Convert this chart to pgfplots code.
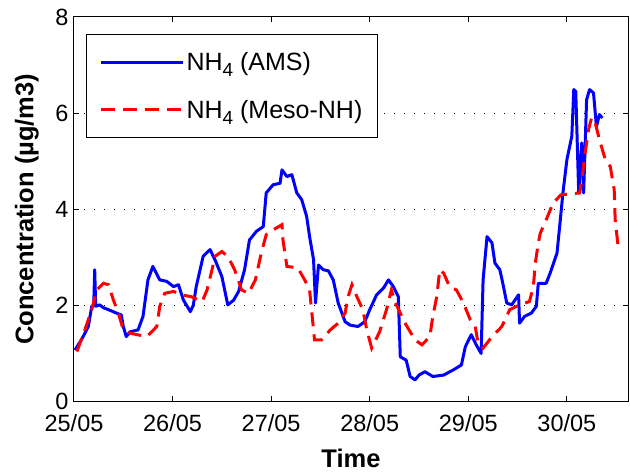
\documentclass[border=0pt]{standalone}
\usepackage{pgfplots}
\pgfplotsset{compat=1.18}
\usepackage{fontspec}
\setmainfont{Liberation Sans}

\definecolor{amsblue}{RGB}{0,0,255}
\definecolor{mesored}{RGB}{255,0,0}

\newcommand{\subfour}{\raisebox{-0.45ex}{\fontsize{19}{19}\selectfont 4}}

\begin{document}
\begin{tikzpicture}
\begin{axis}[
  scale only axis,
  width=554pt, height=384.5pt,
  xmin=0, xmax=5.62, ymin=0, ymax=8,
  xtick={0,1,2,3,4,5},
  xticklabels={25/05,26/05,27/05,28/05,29/05,30/05},
  ytick={0,2,4,6,8},
  /pgf/number format/assume math mode=true,
  tick label style={font=\fontsize{23.5}{27}\selectfont},
  x tick label style={yshift=-9pt},
  y tick label style={xshift=-2pt},
  tick align=inside,
  major tick length=5pt,
  axis line style={line width=1pt},
  every tick/.style={black, line width=1pt},
  ymajorgrids,
  major grid style={black, line width=1pt, dash pattern=on 1pt off 9pt},
  xlabel={\bfseries Time},
  ylabel={\bfseries Concentration (µg/m3)},
  label style={font=\fontsize{25.5}{29}\selectfont},
  x label style={at={(axis description cs:0.5,-0.147)}, anchor=center},
  y label style={at={(axis description cs:-0.085,0.5)}, anchor=center},
  legend style={
    at={(axis description cs:0.0217,0.956)}, anchor=north west,
    draw=black, line width=1pt, fill=white,
    font=\fontsize{25}{29}\selectfont,
    inner xsep=13pt, inner ysep=16pt,
    row sep=24pt,
    cells={anchor=west},
  },
  legend image code/.code={\draw[#1] (0pt,0pt) -- (82pt,0pt);},
]

% AMS measurements
\addplot[amsblue, line width=3pt, line join=round] coordinates {
(0.01,1.07) (0.08,1.30) (0.145,1.56) (0.18,1.98) (0.20,2.00) (0.21,2.74)
(0.22,1.98) (0.26,2.01) (0.30,1.95) (0.35,1.91) (0.43,1.84) (0.48,1.80)
(0.50,1.56) (0.53,1.35) (0.57,1.45) (0.65,1.49) (0.70,1.77) (0.75,2.53)
(0.80,2.81) (0.87,2.53) (0.94,2.50) (1.01,2.39) (1.06,2.43) (1.11,2.11)
(1.18,1.87) (1.21,2.00) (1.24,2.39) (1.31,3.02) (1.38,3.16) (1.43,2.95)
(1.50,2.60) (1.56,2.01) (1.62,2.11) (1.67,2.29) (1.73,2.74) (1.78,3.36)
(1.85,3.54) (1.92,3.64) (1.95,4.34) (2.02,4.51) (2.09,4.54) (2.11,4.82)
(2.16,4.68) (2.21,4.72) (2.26,4.34) (2.31,4.20) (2.36,3.85) (2.39,3.43)
(2.43,2.95) (2.45,2.05) (2.48,2.84) (2.53,2.74) (2.58,2.72) (2.63,2.53)
(2.68,2.05) (2.75,1.66) (2.80,1.59) (2.88,1.56) (2.95,1.66) (3.00,1.91)
(3.07,2.22) (3.14,2.36) (3.19,2.53) (3.24,2.39) (3.29,2.18) (3.31,0.93)
(3.37,0.86) (3.41,0.52) (3.46,0.45) (3.50,0.55) (3.56,0.62) (3.64,0.52)
(3.75,0.55) (3.85,0.66) (3.93,0.76) (3.97,1.14) (4.03,1.39) (4.08,1.18)
(4.13,1.00) (4.15,2.53) (4.19,3.43) (4.24,3.30) (4.27,2.88) (4.32,2.74)
(4.35,2.46) (4.39,2.05) (4.44,2.01) (4.51,2.22) (4.52,1.63) (4.57,1.77)
(4.64,1.84) (4.69,1.98) (4.71,2.46) (4.79,2.46) (4.83,2.67) (4.90,3.09)
(4.93,3.71) (4.96,4.34) (5.00,5.03) (5.05,5.52) (5.07,6.49) (5.09,6.45)
(5.12,4.34) (5.15,5.38) (5.17,4.34) (5.20,6.28) (5.23,6.49) (5.27,6.42)
(5.30,5.72) (5.33,5.97) (5.36,5.90)
};
\addlegendentry{NH\subfour{} (AMS)}

% Meso-NH model
\addplot[mesored, line width=3pt, dash pattern=on 14pt off 8pt] coordinates {
(0.03,1.04) (0.11,1.49) (0.18,1.91) (0.23,2.32) (0.30,2.46) (0.35,2.43)
(0.40,2.11) (0.45,1.84) (0.50,1.49) (0.57,1.42) (0.64,1.39) (0.74,1.35)
(0.84,1.56) (0.87,1.98) (0.92,2.25) (1.01,2.29) (1.09,2.22) (1.19,2.18)
(1.30,2.08) (1.35,2.32) (1.40,2.74) (1.43,3.02) (1.50,3.12) (1.56,3.02)
(1.63,2.74) (1.70,2.32) (1.77,2.25) (1.84,2.53) (1.90,3.09) (1.95,3.47)
(2.02,3.57) (2.11,3.68) (2.12,3.36) (2.16,2.81) (2.27,2.78) (2.34,2.53)
(2.39,2.32) (2.43,1.49) (2.44,1.28) (2.51,1.28) (2.60,1.49) (2.68,1.63)
(2.75,1.84) (2.78,2.18) (2.82,2.43) (2.87,2.18) (2.93,1.91) (2.97,1.49)
(3.02,1.11) (3.10,1.45) (3.17,1.91) (3.22,2.32) (3.26,2.05) (3.31,1.84)
(3.37,1.59) (3.46,1.28) (3.53,1.18) (3.61,1.35) (3.64,1.77) (3.68,2.18)
(3.71,2.74) (3.75,2.67) (3.81,2.39) (3.88,2.32) (3.95,2.05) (4.02,1.70)
(4.07,1.56) (4.10,1.21) (4.15,1.11) (4.24,1.35) (4.34,1.56) (4.42,1.91)
(4.52,2.01) (4.62,2.08) (4.66,2.39) (4.68,2.88) (4.71,3.30) (4.73,3.50)
(4.79,3.78) (4.86,4.13) (4.94,4.30) (5.13,4.34) (5.16,4.75) (5.18,5.10)
(5.22,5.66) (5.25,5.90) (5.28,5.86) (5.33,5.45) (5.39,5.03) (5.44,4.89)
(5.48,4.41) (5.49,3.78) (5.52,3.22)
};
\addlegendentry{NH\subfour{} (Meso-NH)}
\end{axis}
% page frame: room for the labels around the axis box
\pgfresetboundingbox
\useasboundingbox ([shift={(-74pt,-73.5pt)}]current axis.south west)
  rectangle ([shift={(2pt,17pt)}]current axis.north east);
\end{tikzpicture}
\end{document}
